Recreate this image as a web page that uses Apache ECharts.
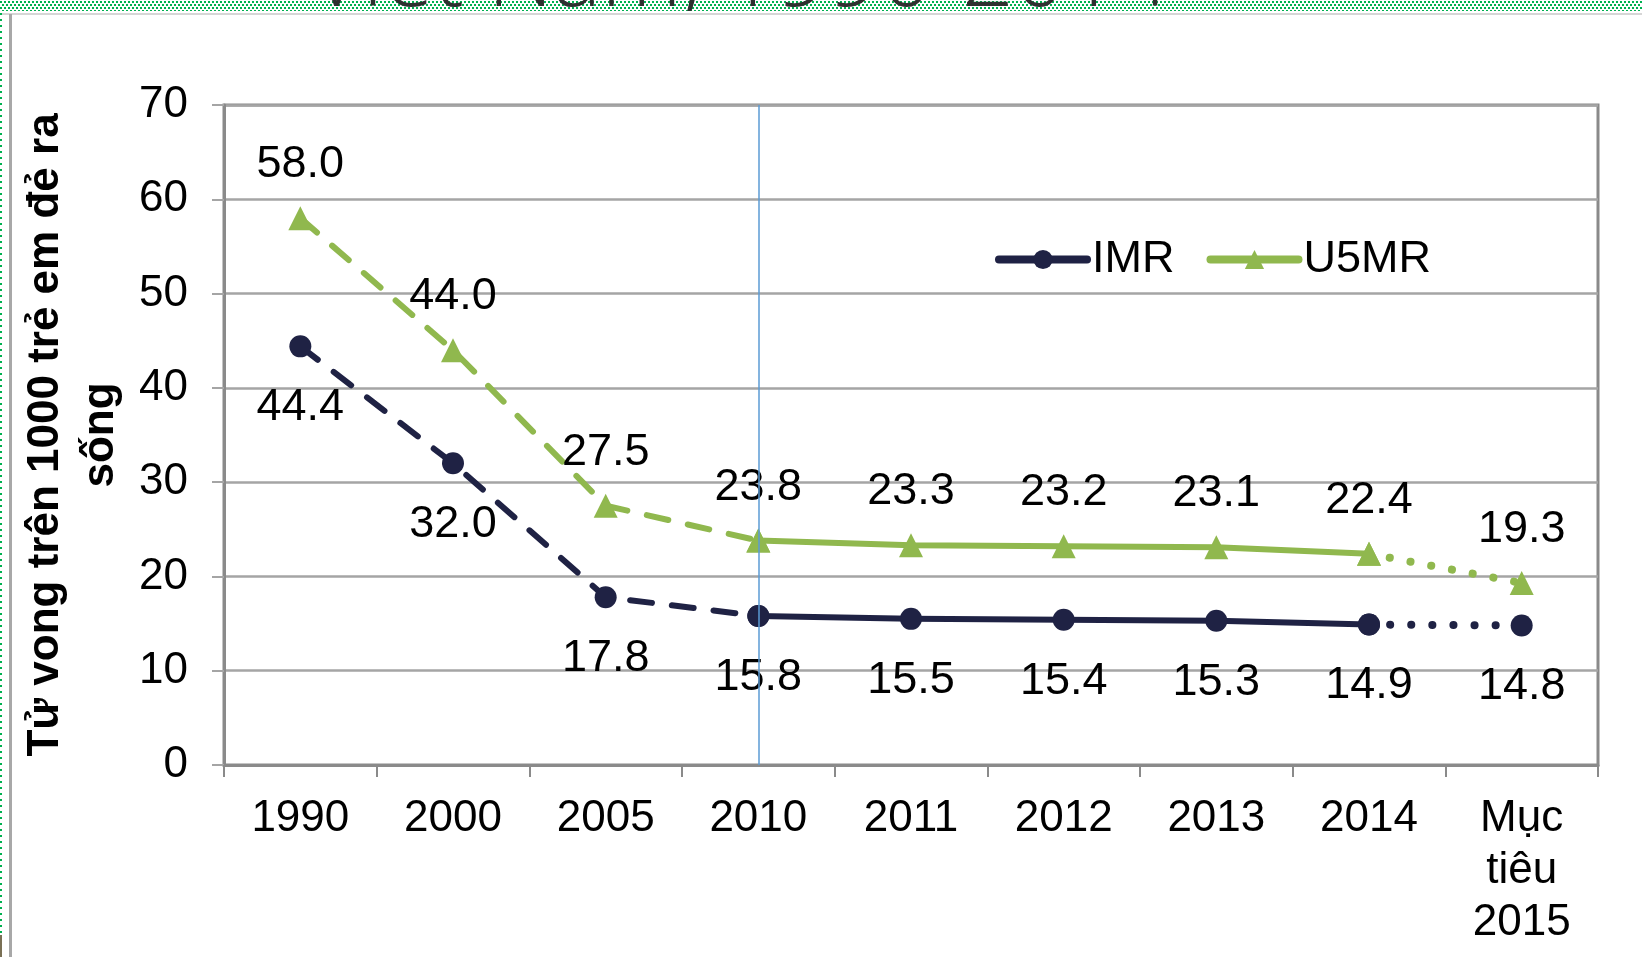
<!DOCTYPE html>
<html>
<head>
<meta charset="utf-8">
<title>IMR / U5MR</title>
<script src="https://cdn.jsdelivr.net/npm/echarts@6/dist/echarts.min.js"></script>
<style>
  html, body { margin: 0; padding: 0; background: #ffffff; }
  #chart { width: 1642px; height: 957px; }
</style>
</head>
<body>
<div id="chart"></div>
<script>
// Categories along the x axis (last one is the 2015 target)
const categories = ['1990', '2000', '2005', '2010', '2011', '2012', '2013', '2014', 'Mục\ntiêu\n2015'];
// Infant mortality rate, per 1000 live births
const imrValues = [44.4, 32.0, 17.8, 15.8, 15.5, 15.4, 15.3, 14.9, 14.8];
// Under-five mortality rate, per 1000 live births
const u5mrValues = [58.0, 44.0, 27.5, 23.8, 23.3, 23.2, 23.1, 22.4, 19.3];
// Value axis range
const yMin = 0, yMax = 70, yStep = 10;
const yAxisTitle = 'Tử vong trên 1000 trẻ em đẻ ra\nsống';
const slideTitle = 'Việt Nam, 1990-2014';

const FONT = '"Liberation Sans", Arial, "DejaVu Sans", sans-serif';
const IMR_COLOR = '#1f2244';
const U5MR_COLOR = '#90b84e';

// Build one piece of a series: values only inside [from, to], labels only inside [lFrom, lTo]
function piece(values, from, to, lFrom, lTo) {
  return values.map((v, i) => {
    if (i < from || i > to) return '-';
    return { value: v, label: { show: i >= lFrom && i <= lTo } };
  });
}

function lineSeries(name, values, color, symbol, size, labelPos, from, to, lFrom, lTo, dash, width) {
  return {
    type: 'line',
    name: name,
    data: piece(values, from, to, lFrom, lTo),
    symbol: symbol,
    symbolSize: size,
    showSymbol: true,
    connectNulls: false,
    z: 3,
    lineStyle: { color: color, width: width || 6, type: dash, cap: 'round', join: 'round' },
    itemStyle: { color: color, borderWidth: 0 },
    label: {
      position: labelPos,
      distance: labelPos === 'top' ? 19 : 28,
      color: '#000',
      fontFamily: FONT,
      fontSize: 45,
      formatter: p => Number(p.value).toFixed(1)
    },
    emphasis: { disabled: true },
    animation: false
  };
}

// Small dotted tile for the slide's decorative strip
function dotTile() {
  const c = document.createElement('canvas');
  c.width = 4; c.height = 6;
  const g = c.getContext('2d');
  g.fillStyle = '#ffffff';
  g.fillRect(0, 0, 4, 6);
  g.fillStyle = '#00b050';
  g.fillRect(0, 1, 2, 2);
  g.fillRect(2, 4, 2, 2);
  return c;
}

const chart = echarts.init(document.getElementById('chart'), null, { renderer: 'canvas' });
const tile = dotTile();

const DASHED = [22, 20];
const DOTTED = [0.1, 21];

const option = {
  backgroundColor: '#ffffff',
  animation: false,
  graphic: {
    elements: [
      { type: 'rect', z: -20, shape: { x: 0, y: 0, width: 1642, height: 11 },
        style: { fill: { image: tile, repeat: 'repeat' } } },
      { type: 'text', z: -19, x: 740, y: -20,
        style: { text: slideTitle, font: '300 91px "Open Sans", ' + FONT, fill: '#303030',
                 align: 'center', verticalAlign: 'middle' } },
      { type: 'rect', z: -18, shape: { x: 0, y: 11, width: 1642, height: 957 },
        style: { fill: '#ffffff' } },
      { type: 'rect', z: -17, shape: { x: 0, y: 13, width: 1642, height: 2 },
        style: { fill: '#d6d6d6' } },
      { type: 'rect', z: -17, shape: { x: 9, y: 14, width: 3, height: 943 },
        style: { fill: '#a8a8a8' } },
      { type: 'rect', z: -16, shape: { x: 0, y: 0, width: 2, height: 935 },
        style: { fill: { image: tile, repeat: 'repeat' } } },
      { type: 'rect', z: -16, shape: { x: 0, y: 935, width: 2, height: 22 },
        style: { fill: '#7a7055' } }
    ]
  },
  grid: {
    left: 224, right: 44, top: 105, bottom: 192,
    show: true, borderColor: '#8a8a8a', borderWidth: 3, backgroundColor: 'transparent'
  },
  legend: {
    left: 990, top: 232,
    itemWidth: 88, itemHeight: 24, itemGap: 32,
    data: ['IMR', 'U5MR'],
    lineStyle: { width: 8, cap: 'round' },
    textStyle: { color: '#000', fontFamily: FONT, fontSize: 45 },
    selectedMode: false
  },
  xAxis: {
    type: 'category',
    data: categories,
    boundaryGap: true,
    axisLine: { show: true, lineStyle: { color: '#8a8a8a', width: 3 } },
    axisTick: { show: true, length: 12, lineStyle: { color: '#8a8a8a', width: 2 } },
    axisLabel: { color: '#000', fontFamily: FONT, fontSize: 44, lineHeight: 52, margin: 28, interval: 0 },
    splitLine: { show: false }
  },
  yAxis: {
    type: 'value',
    min: yMin, max: yMax, interval: yStep,
    name: yAxisTitle,
    nameLocation: 'middle',
    nameRotate: 90,
    nameGap: 84,
    nameTextStyle: { color: '#000', fontFamily: FONT, fontSize: 44, fontWeight: 'bold', lineHeight: 55, align: 'center' },
    axisLine: { show: true, lineStyle: { color: '#8a8a8a', width: 3 } },
    axisTick: { show: true, length: 12, lineStyle: { color: '#a5a5a5', width: 2 } },
    axisLabel: { color: '#000', fontFamily: FONT, fontSize: 44, margin: 36 },
    splitLine: { show: true, lineStyle: { color: '#a5a5a5', width: 2.5 } }
  },
  series: [
    // 1990–2010 estimates, dashed
    lineSeries('IMR 1990-2010', imrValues, IMR_COLOR, 'circle', 22, 'bottom', 0, 3, 0, 2, DASHED),
    lineSeries('U5MR 1990-2010', u5mrValues, U5MR_COLOR, 'triangle', 24, 'top', 0, 3, 0, 2, DASHED),
    // 2010–2014, solid
    Object.assign(
      lineSeries('IMR', imrValues, IMR_COLOR, 'circle', 22, 'bottom', 3, 7, 3, 7, 'solid'),
      { markLine: {
          silent: true, symbol: 'none', animation: false,
          label: { show: false },
          lineStyle: { color: '#5b9bd5', width: 1.5, type: 'solid' },
          data: [{ xAxis: '2010' }]
      } }
    ),
    lineSeries('U5MR', u5mrValues, U5MR_COLOR, 'triangle', 24, 'top', 3, 7, 3, 7, 'solid'),
    // 2014 to the 2015 target, dotted
    lineSeries('IMR 2015', imrValues, IMR_COLOR, 'circle', 22, 'bottom', 7, 8, 8, 8, DOTTED, 8),
    lineSeries('U5MR 2015', u5mrValues, U5MR_COLOR, 'triangle', 24, 'top', 7, 8, 8, 8, DOTTED, 8)
  ]
};

chart.setOption(option);
</script>
</body>
</html>
